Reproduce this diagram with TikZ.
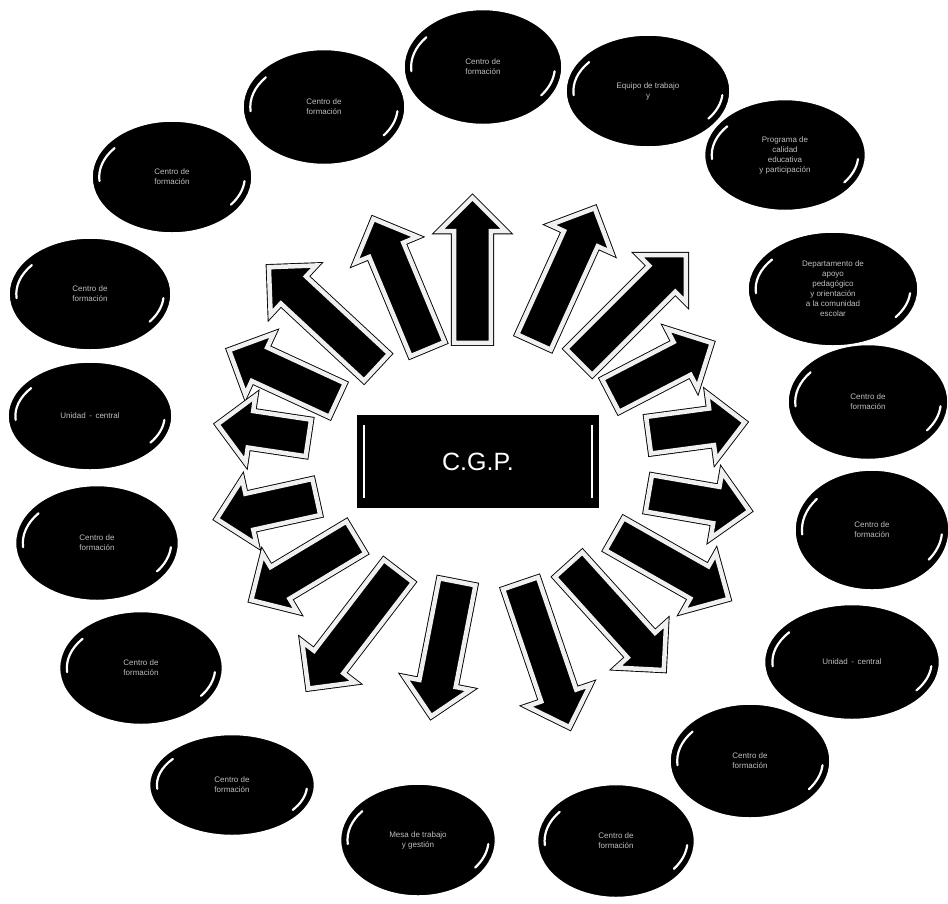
\documentclass[tikz,border=0pt]{standalone}
\usepackage{fontspec}
\setmainfont{Liberation Sans}
\usetikzlibrary{shapes.geometric,shapes.arrows}
\tikzset{
 bubble/.style={ellipse, fill=black, draw=white, line width=1.5pt, inner sep=0pt,
   text=gray!50, font=\fontsize{8}{10}\selectfont, align=center},
 hl/.style={draw=white, line width=2.2pt, line cap=round},
 barrow/.style={single arrow, single arrow tip angle=90, single arrow head extend=15pt,
   inner xsep=0pt, inner ysep=18pt, outer sep=0pt, fill=black, draw=black, line width=0.9pt,
   double=gray!12, double distance=4.5pt, line join=miter},
 hub/.style={rectangle, fill=black, minimum width=242pt, minimum height=93pt,
   text=white, font=\fontsize{25}{30}\selectfont}
}
\newcommand\gloss[3]{%
 \draw[hl] (#1.center) ++(175:{0.455*#2} and {0.42*#3})
   arc[start angle=175, end angle=218, x radius={0.455*#2}, y radius={0.42*#3}];
 \draw[hl] (#1.center) ++(5:{0.455*#2} and {0.42*#3})
   arc[start angle=5, end angle=36, x radius={0.455*#2}, y radius={0.42*#3}];
}
\newcommand\bub[6]{%
 \node[bubble, minimum width=#3pt, minimum height=#4pt] (#1) at (#2) {#5};
 \gloss{#1}{#3}{#4}}
\begin{document}
\begin{tikzpicture}[x=1pt, y=-1pt]
\useasboundingbox (0,0) rectangle (948,903);
\fill[white] (0,0) rectangle (948,903);
% outer ring of ellipses
\bub{e1}{483,67}{158}{115}{Centro de\\ formación}{}
\bub{e2}{648,91}{164}{112}{Equipo de trabajo\\ y}{}
\bub{e3}{785,155}{161}{111}{Programa de\\ calidad\\ educativa\\ y participación}{}
\bub{e4}{833,289}{170}{114}{Departamento de\\ apoyo\\ pedagógico\\ y orientación\\ a la comunidad\\ escolar}{}
\bub{e5}{868,402}{160}{115}{Centro de\\ formación}{}
\bub{e6}{872,530}{154}{120}{Centro de\\ formación}{}
\bub{e7}{852,662}{175}{115}{Unidad \,-\, central}{}
\bub{e8}{750,761}{160}{114}{Centro de\\ formación}{}
\bub{e9}{616,841}{157}{113}{Centro de\\ formación}{}
\bub{e10}{418,840}{155}{112}{Mesa de trabajo\\ y gestión}{}
\bub{e11}{232,785}{165}{101}{Centro de\\ formación}{}
\bub{e12}{141,668}{163}{113}{Centro de\\ formación}{}
\bub{e13}{97,543}{163}{115}{Centro de\\ formación}{}
\bub{e14}{90,416}{164}{108}{Unidad \,-\, central}{}
\bub{e15}{90,294}{162}{112}{Centro de\\ formación}{}
\bub{e16}{172,177}{160}{112}{Centro de\\ formación}{}
\bub{e17}{324,107}{162}{115}{Centro de\\ formación}{}
% radiating arrows
\node[barrow, minimum height=145pt, rotate=90]    (a1)  at (472.5,279.5) {};
\node[barrow, minimum height=141pt, rotate=112.6] (a2)  at (404,292.5) {};
\node[barrow, minimum height=147pt, rotate=137.1] (a3)  at (329.5,323.5) {};
\node[barrow, minimum height=119pt, rotate=155.2] (a4)  at (291.5,379) {};
\node[barrow, minimum height=92pt, rotate=171.5]  (a5)  at (272,432.5) {};
\node[barrow, minimum height=102pt, rotate=192.4] (a6)  at (275.5,506) {};
\node[barrow, minimum height=122pt, rotate=211.0] (a7)  at (311.5,564) {};
\node[barrow, minimum height=148pt, rotate=232.5] (a8)  at (359,622.5) {};
\node[barrow, minimum height=137pt, rotate=259.0] (a9)  at (446,640) {};
\node[barrow, minimum height=152pt, rotate=288.8] (a10) at (542,646.5) {};
\node[barrow, minimum height=142pt, rotate=312.1] (a11) at (610,610.5) {};
\node[barrow, minimum height=131pt, rotate=330.4] (a12) at (663.5,562) {};
\node[barrow, minimum height=102pt, rotate=350.2] (a13) at (690,500.5) {};
\node[barrow, minimum height=97pt, rotate=7.6]    (a14) at (687.5,430) {};
\node[barrow, minimum height=114pt, rotate=27.4]  (a15) at (653,373.5) {};
\node[barrow, minimum height=151pt, rotate=45]    (a16) at (626,315) {};
\node[barrow, minimum height=147pt, rotate=65.6]  (a17) at (560.5,283.5) {};
% hub
\node[hub] (hub) at (478,461.5) {C.G.P.};
\draw[white, line width=2pt] ([shift={(7,10)}]hub.north west) -- ([shift={(7,-10)}]hub.south west);
\draw[white, line width=2pt] ([shift={(-7,10)}]hub.north east) -- ([shift={(-7,-10)}]hub.south east);
\end{tikzpicture}
\end{document}
